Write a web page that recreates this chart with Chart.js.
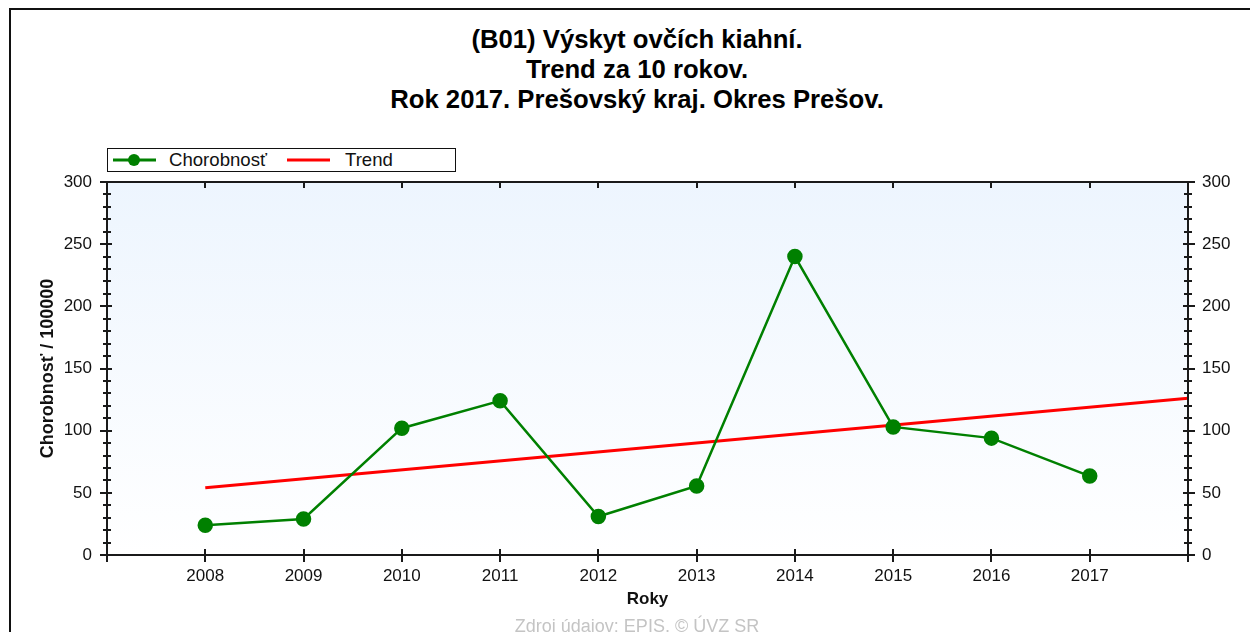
<!DOCTYPE html>
<html>
<head>
<meta charset="utf-8">
<script src="https://cdn.jsdelivr.net/npm/chart.js@4"></script>
<style>
  body { margin:0; background:#fff; }
  #wrap { position:relative; width:1250px; height:632px; overflow:hidden; background:#fff; font-family:"Liberation Sans", Arial, sans-serif; }
  #frame { position:absolute; left:9px; top:8px; width:1400px; height:800px; border-top:2px solid #111; border-left:2px solid #111; }
  #title { position:absolute; left:24px; right:0; top:24px; text-align:center; font-weight:bold; font-size:25.7px; line-height:30px; color:#000; }
  #legend { position:absolute; left:107px; top:148px; width:347px; height:22px; border:1.5px solid #111; background:#fff; }
  #legend svg { position:absolute; left:0; top:0; }
  #legend span { position:absolute; top:0; font-size:18.6px; line-height:22px; color:#111; }
  #source { position:absolute; left:24px; right:0; top:617px; text-align:center; font-size:18px; line-height:18px; color:#c4c4c4; }
  canvas { position:absolute; left:0; top:0; }
</style>
</head>
<body>
<div id="wrap">
  <div id="frame"></div>
  <div id="title">(B01) Výskyt ovčích kiahní.<br>Trend za 10 rokov.<br>Rok 2017. Prešovský kraj. Okres Prešov.</div>
  <canvas id="my_Chart" width="1250" height="632"></canvas>
  <div id="legend">
    <svg width="347" height="22">
      <line x1="5" y1="11" x2="48" y2="11" stroke="#008000" stroke-width="3"/>
      <circle cx="26" cy="11" r="6" fill="#008000"/>
      <line x1="179" y1="11" x2="222" y2="11" stroke="#ff0000" stroke-width="3"/>
    </svg>
    <span style="left:61px">Chorobnosť</span>
    <span style="left:237px">Trend</span>
  </div>
  <div id="source">Zdroj údajov: EPIS, © ÚVZ SR</div>
</div>
<script>
// data
var years = [2008, 2009, 2010, 2011, 2012, 2013, 2014, 2015, 2016, 2017];
var incidence = [24, 29, 102, 124, 31, 55.5, 240, 103, 94, 63.5];
var trendYears = [2008, 2018];
var trendValues = [54, 126];

var xMin = 2007, xMax = 2018;
var yMin = 0, yMax = 300, yStep = 50, yMinorStep = 10;

var fontFam = '"Liberation Sans", Arial, sans-serif';

function pairs(xs, ys) {
  var out = [];
  for (var i = 0; i < xs.length; i++) out.push({x: xs[i], y: ys[i]});
  return out;
}

// light blue fade behind the plot
var plotBg = {
  id: 'plotBg',
  beforeDatasetsDraw: function(chart) {
    var a = chart.chartArea, ctx = chart.ctx;
    var g = ctx.createLinearGradient(0, a.top, 0, a.bottom);
    g.addColorStop(0, '#edf5fe');
    g.addColorStop(1, '#ffffff');
    ctx.save();
    ctx.fillStyle = g;
    ctx.fillRect(a.left, a.top, a.right - a.left, a.bottom - a.top);
    ctx.restore();
  }
};

// axis frame with crossing major / minor ticks
var axisFrame = {
  id: 'axisFrame',
  afterDatasetsDraw: function(chart) {
    var a = chart.chartArea, ctx = chart.ctx;
    var sx = chart.scales.x, sy = chart.scales.y;
    ctx.save();
    ctx.strokeStyle = '#1a1a1a';
    ctx.lineWidth = 2;
    ctx.beginPath();
    ctx.moveTo(a.left, a.top); ctx.lineTo(a.right, a.top);
    ctx.moveTo(a.left, a.bottom); ctx.lineTo(a.right, a.bottom);
    ctx.moveTo(a.left, a.top); ctx.lineTo(a.left, a.bottom);
    ctx.moveTo(a.right, a.top); ctx.lineTo(a.right, a.bottom);
    for (var yr = xMin; yr <= xMax; yr++) {
      var px = Math.round(sx.getPixelForValue(yr));
      ctx.moveTo(px, a.bottom - 6); ctx.lineTo(px, a.bottom + 7);
      ctx.moveTo(px, a.top); ctx.lineTo(px, a.top + 6);
    }
    for (var v = yMin; v <= yMax; v += yMinorStep) {
      var py = Math.round(sy.getPixelForValue(v));
      if (v % yStep === 0) {
        ctx.moveTo(a.left - 7, py); ctx.lineTo(a.left + 5, py);
        ctx.moveTo(a.right - 5, py); ctx.lineTo(a.right + 7, py);
      } else {
        ctx.moveTo(a.left - 4, py); ctx.lineTo(a.left + 4, py);
        ctx.moveTo(a.right - 4, py); ctx.lineTo(a.right + 4, py);
      }
    }
    ctx.stroke();
    ctx.restore();
  }
};

var tickFont = {family: fontFam, size: 17};
var xTitleFont = {family: fontFam, size: 17, weight: 'bold'};
var yTitleFont = {family: fontFam, size: 18, weight: 'bold'};

var ctx = document.getElementById('my_Chart').getContext('2d');
var myChart = new Chart(ctx, {
  type: 'line',
  data: {
    datasets: [{
      label: 'Chorobnosť',
      data: pairs(years, incidence),
      borderColor: '#008000',
      backgroundColor: '#008000',
      borderWidth: 2.5,
      pointRadius: 6.5,
      pointHoverRadius: 6.5,
      tension: 0
    }, {
      label: 'Trend',
      data: pairs(trendYears, trendValues),
      borderColor: '#ff0000',
      backgroundColor: '#ff0000',
      borderWidth: 3,
      pointRadius: 0,
      tension: 0
    }]
  },
  options: {
    responsive: false,
    animation: false,
    layout: {padding: {top: 182, left: 0, right: 0, bottom: 0}},
    plugins: {
      legend: {display: false},
      title: {display: false},
      tooltip: {enabled: false}
    },
    scales: {
      x: {
        type: 'linear',
        min: xMin,
        max: xMax,
        grid: {display: false, drawTicks: false},
        border: {display: false},
        ticks: {
          stepSize: 1,
          autoSkip: false,
          maxRotation: 0,
          padding: 11,
          color: '#111',
          font: tickFont,
          callback: function(v) { return (v < years[0] || v > years[years.length - 1]) ? '' : String(v); }
        },
        title: {display: true, text: 'Roky', color: '#111', font: xTitleFont, padding: {top: 0, bottom: 22}},
        afterFit: function(s) { s.height = 77; }
      },
      y: {
        position: 'left',
        min: yMin,
        max: yMax,
        grid: {display: false, drawTicks: false},
        border: {display: false},
        ticks: {stepSize: yStep, padding: 15, color: '#111', font: tickFont},
        title: {display: true, text: 'Chorobnosť / 100000', color: '#111', font: yTitleFont, padding: {top: 37, bottom: 0}},
        afterFit: function(s) { s.width = 107; }
      },
      y2: {
        position: 'right',
        min: yMin,
        max: yMax,
        grid: {display: false, drawTicks: false},
        border: {display: false},
        ticks: {stepSize: yStep, padding: 14, color: '#111', font: tickFont},
        afterFit: function(s) { s.width = 62; }
      }
    }
  },
  plugins: [plotBg, axisFrame]
});
</script>
</body>
</html>
